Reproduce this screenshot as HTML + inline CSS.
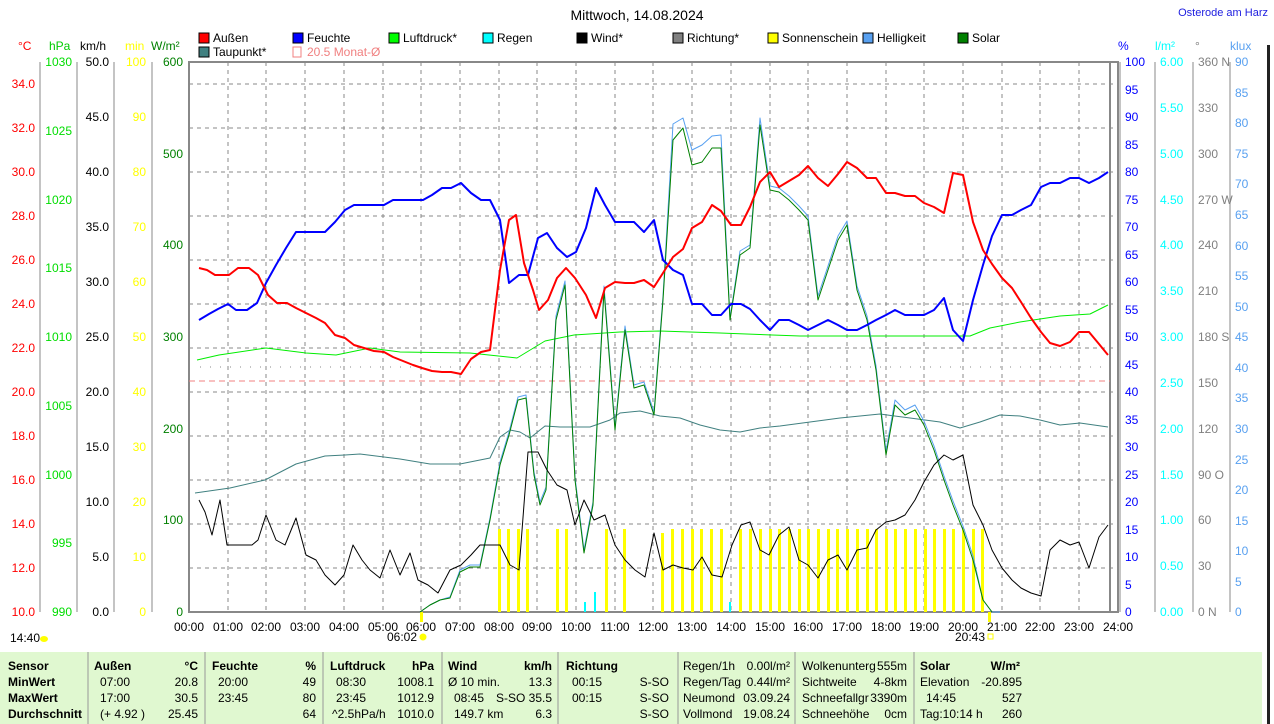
<!DOCTYPE html>
<html><head><meta charset="utf-8"><style>
body{margin:0;background:#fff;}
svg{display:block;font-family:"Liberation Sans",sans-serif;font-size:12px;}
</style></head><body>
<svg width="1274" height="724" viewBox="0 0 1274 724" xmlns="http://www.w3.org/2000/svg">
<rect width="1274" height="724" fill="#fff"/>
<text x="637" y="20" text-anchor="middle" font-size="14">Mittwoch, 14.08.2024</text>
<text x="1268" y="16" text-anchor="end" fill="#2020e0" font-size="11">Osterode am Harz</text>
<rect x="1267" y="45" width="3" height="680" fill="#222"/>
<g font-size="12">
<rect x="199" y="33" width="10" height="10" fill="#f00" stroke="#000"/><text x="213" y="42">Außen</text>
<rect x="293" y="33" width="10" height="10" fill="#00f" stroke="#000"/><text x="307" y="42">Feuchte</text>
<rect x="389" y="33" width="10" height="10" fill="#0f0" stroke="#000"/><text x="403" y="42">Luftdruck*</text>
<rect x="483" y="33" width="10" height="10" fill="#0ff" stroke="#000"/><text x="497" y="42">Regen</text>
<rect x="577" y="33" width="10" height="10" fill="#000" stroke="#000"/><text x="591" y="42">Wind*</text>
<rect x="673" y="33" width="10" height="10" fill="#808080" stroke="#000"/><text x="687" y="42">Richtung*</text>
<rect x="768" y="33" width="10" height="10" fill="#ff0" stroke="#000"/><text x="782" y="42">Sonnenschein</text>
<rect x="863" y="33" width="10" height="10" fill="#58a0f0" stroke="#000"/><text x="877" y="42">Helligkeit</text>
<rect x="958" y="33" width="10" height="10" fill="#008000" stroke="#000"/><text x="972" y="42">Solar</text>
<rect x="199" y="47" width="10" height="10" fill="#408080" stroke="#000"/><text x="213" y="56">Taupunkt*</text>
<rect x="293" y="47" width="8" height="10" fill="none" stroke="#f08080"/><text x="307" y="56" fill="#f08080">20.5 Monat-Ø</text>
</g>
<g font-size="12">
<text x="18" y="50" fill="#f00">°C</text>
<text x="49" y="50" fill="#0c0">hPa</text>
<text x="80" y="50">km/h</text>
<text x="125" y="50" fill="#ff0">min</text>
<text x="151" y="50" fill="#008000">W/m²</text>
<text x="1118" y="50" fill="#00f">%</text>
<text x="1155" y="50" fill="#0ff">l/m²</text>
<text x="1195" y="50" fill="#808080">°</text>
<text x="1230" y="50" fill="#58a0f0">klux</text>
</g>
<g stroke="#888" stroke-dasharray="4,4" stroke-width="1">
<line x1="228" y1="62" x2="228" y2="612"/><line x1="266" y1="62" x2="266" y2="612"/><line x1="305" y1="62" x2="305" y2="612"/><line x1="344" y1="62" x2="344" y2="612"/><line x1="383" y1="62" x2="383" y2="612"/><line x1="421" y1="62" x2="421" y2="612"/><line x1="460" y1="62" x2="460" y2="612"/><line x1="499" y1="62" x2="499" y2="612"/><line x1="537" y1="62" x2="537" y2="612"/><line x1="576" y1="62" x2="576" y2="612"/><line x1="615" y1="62" x2="615" y2="612"/><line x1="653" y1="62" x2="653" y2="612"/><line x1="692" y1="62" x2="692" y2="612"/><line x1="731" y1="62" x2="731" y2="612"/><line x1="770" y1="62" x2="770" y2="612"/><line x1="808" y1="62" x2="808" y2="612"/><line x1="847" y1="62" x2="847" y2="612"/><line x1="886" y1="62" x2="886" y2="612"/><line x1="924" y1="62" x2="924" y2="612"/><line x1="963" y1="62" x2="963" y2="612"/><line x1="1002" y1="62" x2="1002" y2="612"/><line x1="1040" y1="62" x2="1040" y2="612"/><line x1="1079" y1="62" x2="1079" y2="612"/>
<line x1="189" y1="84" x2="1118" y2="84"/><line x1="189" y1="128" x2="1118" y2="128"/><line x1="189" y1="172" x2="1118" y2="172"/><line x1="189" y1="216" x2="1118" y2="216"/><line x1="189" y1="260" x2="1118" y2="260"/><line x1="189" y1="304" x2="1118" y2="304"/><line x1="189" y1="348" x2="1118" y2="348"/><line x1="189" y1="392" x2="1118" y2="392"/><line x1="189" y1="436" x2="1118" y2="436"/><line x1="189" y1="480" x2="1118" y2="480"/><line x1="189" y1="524" x2="1118" y2="524"/><line x1="189" y1="568" x2="1118" y2="568"/>
</g>
<rect x="189" y="62" width="929" height="550" fill="none" stroke="#888" stroke-width="2"/>
<line x1="1110" y1="62" x2="1110" y2="612" stroke="#888" stroke-width="2"/>
<g stroke="#888"><line x1="40" y1="62" x2="40" y2="612"/><line x1="77" y1="62" x2="77" y2="612"/><line x1="114" y1="62" x2="114" y2="612"/><line x1="152" y1="62" x2="152" y2="612"/>
<line x1="1120" y1="62" x2="1120" y2="612"/><line x1="1155" y1="62" x2="1155" y2="612"/><line x1="1193" y1="62" x2="1193" y2="612"/><line x1="1230" y1="62" x2="1230" y2="612"/></g>
<g font-size="12" text-anchor="end" fill="#f00">
<text x="35" y="88">34.0</text><text x="35" y="132">32.0</text><text x="35" y="176">30.0</text><text x="35" y="220">28.0</text><text x="35" y="264">26.0</text><text x="35" y="308">24.0</text><text x="35" y="352">22.0</text><text x="35" y="396">20.0</text><text x="35" y="440">18.0</text><text x="35" y="484">16.0</text><text x="35" y="528">14.0</text><text x="35" y="572">12.0</text><text x="35" y="616">10.0</text>
</g>
<g font-size="12" text-anchor="end" fill="#0d0">
<text x="72" y="66">1030</text><text x="72" y="135">1025</text><text x="72" y="204">1020</text><text x="72" y="272">1015</text><text x="72" y="341">1010</text><text x="72" y="410">1005</text><text x="72" y="479">1000</text><text x="72" y="547">995</text><text x="72" y="616">990</text>
</g>
<g font-size="12" text-anchor="end">
<text x="109" y="66">50.0</text><text x="109" y="121">45.0</text><text x="109" y="176">40.0</text><text x="109" y="231">35.0</text><text x="109" y="286">30.0</text><text x="109" y="341">25.0</text><text x="109" y="396">20.0</text><text x="109" y="451">15.0</text><text x="109" y="506">10.0</text><text x="109" y="561">5.0</text><text x="109" y="616">0.0</text>
</g>
<g font-size="12" text-anchor="end" fill="#ff0">
<text x="146" y="66">100</text><text x="146" y="121">90</text><text x="146" y="176">80</text><text x="146" y="231">70</text><text x="146" y="286">60</text><text x="146" y="341">50</text><text x="146" y="396">40</text><text x="146" y="451">30</text><text x="146" y="506">20</text><text x="146" y="561">10</text><text x="146" y="616">0</text>
</g>
<g font-size="12" text-anchor="end" fill="#008000">
<text x="183" y="66">600</text><text x="183" y="158">500</text><text x="183" y="249">400</text><text x="183" y="341">300</text><text x="183" y="433">200</text><text x="183" y="524">100</text><text x="183" y="616">0</text>
</g>
<g font-size="12" fill="#00f">
<text x="1125" y="66">100</text><text x="1125" y="94">95</text><text x="1125" y="121">90</text><text x="1125" y="149">85</text><text x="1125" y="176">80</text><text x="1125" y="204">75</text><text x="1125" y="231">70</text><text x="1125" y="259">65</text><text x="1125" y="286">60</text><text x="1125" y="314">55</text><text x="1125" y="341">50</text><text x="1125" y="369">45</text><text x="1125" y="396">40</text><text x="1125" y="424">35</text><text x="1125" y="451">30</text><text x="1125" y="479">25</text><text x="1125" y="506">20</text><text x="1125" y="534">15</text><text x="1125" y="561">10</text><text x="1125" y="589">5</text><text x="1125" y="616">0</text>
</g>
<g font-size="12" fill="#0ff">
<text x="1160" y="66">6.00</text><text x="1160" y="112">5.50</text><text x="1160" y="158">5.00</text><text x="1160" y="204">4.50</text><text x="1160" y="249">4.00</text><text x="1160" y="295">3.50</text><text x="1160" y="341">3.00</text><text x="1160" y="387">2.50</text><text x="1160" y="433">2.00</text><text x="1160" y="479">1.50</text><text x="1160" y="524">1.00</text><text x="1160" y="570">0.50</text><text x="1160" y="616">0.00</text>
</g>
<g font-size="12" fill="#808080">
<text x="1198" y="66">360 N</text><text x="1198" y="112">330</text><text x="1198" y="158">300</text><text x="1198" y="204">270 W</text><text x="1198" y="249">240</text><text x="1198" y="295">210</text><text x="1198" y="341">180 S</text><text x="1198" y="387">150</text><text x="1198" y="433">120</text><text x="1198" y="479">90 O</text><text x="1198" y="524">60</text><text x="1198" y="570">30</text><text x="1198" y="616">0 N</text>
</g>
<g font-size="12" fill="#58a0f0">
<text x="1235" y="66">90</text><text x="1235" y="97">85</text><text x="1235" y="127">80</text><text x="1235" y="158">75</text><text x="1235" y="188">70</text><text x="1235" y="219">65</text><text x="1235" y="250">60</text><text x="1235" y="280">55</text><text x="1235" y="311">50</text><text x="1235" y="341">45</text><text x="1235" y="372">40</text><text x="1235" y="402">35</text><text x="1235" y="433">30</text><text x="1235" y="464">25</text><text x="1235" y="494">20</text><text x="1235" y="525">15</text><text x="1235" y="555">10</text><text x="1235" y="586">5</text><text x="1235" y="616">0</text>
</g>
<g font-size="12" text-anchor="middle">
<text x="189" y="631">00:00</text><text x="228" y="631">01:00</text><text x="266" y="631">02:00</text><text x="305" y="631">03:00</text><text x="344" y="631">04:00</text><text x="383" y="631">05:00</text><text x="421" y="631">06:00</text><text x="460" y="631">07:00</text><text x="499" y="631">08:00</text><text x="537" y="631">09:00</text><text x="576" y="631">10:00</text><text x="615" y="631">11:00</text><text x="653" y="631">12:00</text><text x="692" y="631">13:00</text><text x="731" y="631">14:00</text><text x="770" y="631">15:00</text><text x="808" y="631">16:00</text><text x="847" y="631">17:00</text><text x="886" y="631">18:00</text><text x="924" y="631">19:00</text><text x="963" y="631">20:00</text><text x="1002" y="631">21:00</text><text x="1040" y="631">22:00</text><text x="1079" y="631">23:00</text><text x="1118" y="631">24:00</text>
<text x="402" y="641">06:02</text><text x="970" y="641">20:43</text>
</g>
<text x="10" y="642" font-size="12">14:40</text>
<ellipse cx="44" cy="639" rx="4" ry="3" fill="#ff0"/>
<circle cx="423" cy="637" r="3.5" fill="#ff0"/>
<rect x="988" y="634" width="5" height="5" fill="none" stroke="#ff0"/>
<g fill="#ff0">
<rect x="498" y="529" width="3" height="83"/><rect x="507" y="529" width="3" height="83"/><rect x="517" y="529" width="3" height="83"/><rect x="526" y="529" width="3" height="83"/>
<rect x="556" y="529" width="3" height="83"/><rect x="565" y="529" width="3" height="83"/><rect x="605" y="529" width="3" height="83"/><rect x="623" y="529" width="3" height="83"/>
<rect x="661" y="533" width="3" height="79"/><rect x="671" y="529" width="3" height="83"/><rect x="681" y="529" width="3" height="83"/><rect x="691" y="529" width="3" height="83"/><rect x="700" y="529" width="3" height="83"/><rect x="710" y="529" width="3" height="83"/><rect x="720" y="529" width="3" height="83"/>
<rect x="739" y="529" width="3" height="83"/><rect x="749" y="529" width="3" height="83"/><rect x="759" y="529" width="3" height="83"/><rect x="769" y="529" width="3" height="83"/><rect x="778" y="529" width="3" height="83"/><rect x="788" y="529" width="3" height="83"/><rect x="798" y="529" width="3" height="83"/><rect x="807" y="529" width="3" height="83"/><rect x="817" y="529" width="3" height="83"/><rect x="827" y="529" width="3" height="83"/><rect x="836" y="529" width="3" height="83"/><rect x="846" y="529" width="3" height="83"/><rect x="856" y="529" width="3" height="83"/><rect x="866" y="529" width="3" height="83"/><rect x="875" y="529" width="3" height="83"/><rect x="885" y="529" width="3" height="83"/><rect x="894" y="529" width="3" height="83"/><rect x="904" y="529" width="3" height="83"/><rect x="914" y="529" width="3" height="83"/><rect x="924" y="529" width="3" height="83"/><rect x="933" y="529" width="3" height="83"/><rect x="943" y="529" width="3" height="83"/><rect x="952" y="529" width="3" height="83"/><rect x="962" y="529" width="3" height="83"/><rect x="972" y="529" width="3" height="83"/><rect x="981" y="529" width="3" height="83"/>
<rect x="420" y="612" width="3" height="10"/><rect x="988" y="612" width="3" height="10"/>
</g>
<g fill="#0ff"><rect x="584" y="602" width="2" height="10"/><rect x="594" y="592" width="2" height="20"/><rect x="729" y="602" width="2" height="10"/></g>
<line x1="189" y1="381" x2="1110" y2="381" stroke="#f08080" stroke-dasharray="6,4"/>
<line x1="200" y1="367" x2="1110" y2="367" stroke="#888" stroke-dasharray="1,9"/>
<g fill="none" stroke-linejoin="round">
<polyline stroke="#408080" stroke-width="1" points="195,493 230,488 265,480 296,464 325,456 345,455 360,454 400,459 430,464 460,464 490,458 500,437 510,430 520,432 530,438 545,426 560,427 575,427 590,427 610,420 620,413 640,411 660,416 680,418 700,425 720,430 740,432 760,428 780,426 810,422 840,418 880,414 910,418 940,422 960,428 980,422 1000,415 1020,416 1040,420 1060,425 1080,423 1108,427"/>
<polyline stroke="#0e0" stroke-width="1" points="197,360 219,355 266,348 306,353 336,355 370,348 400,352 470,353 517,358 545,341 574,335 620,332 660,331 720,333 800,336 900,336 970,336 990,328 1020,322 1060,316 1090,314 1108,305"/>
<polyline stroke="#58a0f0" stroke-width="1" points="420,612 430,605 440,600 450,597 460,570 470,565 480,565 490,518 500,462 509,432 518,397 526,395 534,472 540,502 546,487 556,316 565,281 575,477 584,550 593,502 604,286 615,427 625,326 634,385 644,382 654,412 663,296 673,124 683,118 692,150 702,145 712,136 721,135 730,318 740,251 750,245 760,118 770,186 779,188 789,196 799,206 808,216 818,296 828,266 838,236 847,221 857,286 867,316 876,366 886,451 895,400 905,410 915,405 924,421 934,446 944,476 953,501 963,526 973,556 983,600 992,612 1000,612"/>
<polyline stroke="#008000" stroke-width="1" points="420,612 430,605 440,600 450,598 460,572 470,567 480,567 490,520 500,465 509,435 518,400 526,398 534,475 540,505 546,490 556,320 565,285 575,480 584,553 593,505 604,290 615,430 625,330 634,388 644,385 654,415 663,300 673,140 683,128 692,165 702,162 712,148 721,148 730,320 740,255 750,248 760,125 770,190 779,192 789,200 799,210 808,220 818,300 828,270 838,240 847,225 857,290 867,320 876,370 886,455 895,405 905,415 915,410 924,425 934,450 944,480 953,505 963,530 973,560 983,600 992,612"/>
<polyline stroke="#000" stroke-width="1" points="199,500 205,512 212,535 220,500 227,545 235,545 245,545 252,545 258,540 266,515 276,540 285,545 296,518 306,555 316,560 325,575 335,585 344,575 353,545 362,560 370,570 380,578 390,550 400,575 410,553 418,580 428,585 438,593 450,570 461,565 471,555 480,545 490,545 500,545 510,565 519,570 528,452 538,452 547,470 557,485 567,490 575,525 584,500 594,520 605,515 615,545 625,560 635,570 645,577 654,533 663,570 673,565 683,568 693,570 702,557 712,575 722,577 732,545 741,525 750,522 760,550 769,555 779,535 789,527 799,560 808,565 818,578 828,560 838,555 847,570 857,550 867,548 876,530 886,522 895,520 905,515 915,500 924,482 934,465 944,455 953,460 963,455 973,505 983,525 992,550 1002,568 1012,580 1021,588 1031,593 1041,596 1050,550 1060,540 1070,545 1079,542 1089,568 1099,537 1108,525"/>
<polyline stroke="#00f" stroke-width="2" points="199,320 209,314 218,309 228,304 236,310 247,310 257,303 266,283 276,265 286,248 296,232 306,232 316,232 325,232 335,222 345,210 354,205 364,205 374,205 384,205 393,200 403,200 413,200 423,200 432,195 442,188 451,188 461,183 471,193 481,200 490,200 500,220 509,283 519,275 528,275 538,238 547,233 557,248 567,257 576,252 586,228 596,188 605,205 615,222 625,222 634,222 644,232 654,220 663,260 673,270 683,275 692,304 702,304 712,315 721,315 731,304 741,304 750,309 760,320 770,330 779,320 789,320 799,325 808,330 818,325 828,320 838,325 847,330 857,330 867,325 876,320 886,315 895,310 905,315 915,315 924,315 934,310 944,298 953,330 963,341 973,300 983,265 992,236 1002,215 1012,215 1021,210 1031,205 1041,187 1050,183 1060,183 1070,178 1079,178 1089,183 1099,178 1108,172"/>
<polyline stroke="#f00" stroke-width="2" points="199,268 207,270 215,275 229,275 238,268 249,268 258,275 268,295 277,303 287,303 296,308 306,313 316,318 325,323 335,335 345,338 354,345 364,348 374,351 384,352 393,357 403,361 413,365 422,368 432,371 442,372 451,372 461,374 471,359 481,352 490,350 500,270 509,220 516,215 524,263 533,290 539,310 548,300 557,278 566,268 575,278 586,295 596,318 605,288 615,282 625,283 634,283 644,280 654,287 663,273 673,257 683,249 692,228 702,222 712,205 721,211 731,225 741,225 750,207 760,182 770,172 779,187 789,181 799,175 808,166 818,178 828,186 838,174 847,162 857,168 867,178 876,178 886,193 895,193 905,196 915,196 924,203 934,207 944,213 953,173 963,175 973,222 983,250 992,264 1002,278 1012,288 1021,302 1031,318 1041,332 1050,343 1060,346 1070,342 1079,332 1089,332 1099,344 1108,355"/>
</g>
<rect x="0" y="652" width="1262" height="72" fill="#e0f8d0"/>
<g stroke="#999"><line x1="88" y1="652" x2="88" y2="724"/><line x1="205" y1="652" x2="205" y2="724"/><line x1="323" y1="652" x2="323" y2="724"/><line x1="442" y1="652" x2="442" y2="724"/><line x1="558" y1="652" x2="558" y2="724"/><line x1="678" y1="652" x2="678" y2="724"/><line x1="795" y1="652" x2="795" y2="724"/><line x1="914" y1="652" x2="914" y2="724"/></g>
<g font-size="12">
<g font-weight="bold"><text x="8" y="670">Sensor</text><text x="8" y="686">MinWert</text><text x="8" y="702">MaxWert</text><text x="8" y="718">Durchschnitt</text>
<text x="94" y="670">Außen</text><text x="212" y="670">Feuchte</text><text x="330" y="670">Luftdruck</text><text x="448" y="670">Wind</text><text x="566" y="670">Richtung</text><text x="920" y="670">Solar</text></g>
<g font-weight="bold" text-anchor="end"><text x="198" y="670">°C</text><text x="316" y="670">%</text><text x="434" y="670">hPa</text><text x="552" y="670">km/h</text><text x="1020" y="670">W/m²</text></g>
<text x="100" y="686">07:00</text><text x="100" y="702">17:00</text><text x="100" y="718">(+ 4.92 )</text>
<text x="218" y="686">20:00</text><text x="218" y="702">23:45</text>
<text x="336" y="686">08:30</text><text x="336" y="702">23:45</text><text x="332" y="718">^2.5hPa/h</text>
<text x="448" y="686">Ø 10 min.</text><text x="454" y="702">08:45</text><text x="454" y="718">149.7 km</text>
<text x="572" y="686">00:15</text><text x="572" y="702">00:15</text>
<text x="683" y="670">Regen/1h</text><text x="683" y="686">Regen/Tag</text><text x="683" y="702">Neumond</text><text x="683" y="718">Vollmond</text>
<text x="802" y="670">Wolkenunterg</text><text x="802" y="686">Sichtweite</text><text x="802" y="702">Schneefallgr</text><text x="802" y="718">Schneehöhe</text>
<text x="920" y="686">Elevation</text><text x="926" y="702">14:45</text><text x="920" y="718">Tag:10:14 h</text>
<g text-anchor="end">
<text x="198" y="686">20.8</text><text x="198" y="702">30.5</text><text x="198" y="718">25.45</text>
<text x="316" y="686">49</text><text x="316" y="702">80</text><text x="316" y="718">64</text>
<text x="434" y="686">1008.1</text><text x="434" y="702">1012.9</text><text x="434" y="718">1010.0</text>
<text x="552" y="686">13.3</text><text x="552" y="702">S-SO 35.5</text><text x="552" y="718">6.3</text>
<text x="669" y="686">S-SO</text><text x="669" y="702">S-SO</text><text x="669" y="718">S-SO</text>
<text x="790" y="670">0.00l/m²</text><text x="790" y="686">0.44l/m²</text><text x="790" y="702">03.09.24</text><text x="790" y="718">19.08.24</text>
<text x="907" y="670">555m</text><text x="907" y="686">4-8km</text><text x="907" y="702">3390m</text><text x="907" y="718">0cm</text>
<text x="1022" y="686">-20.895</text><text x="1022" y="702">527</text><text x="1022" y="718">260</text>
</g>
</g>
</svg>
</body></html>
